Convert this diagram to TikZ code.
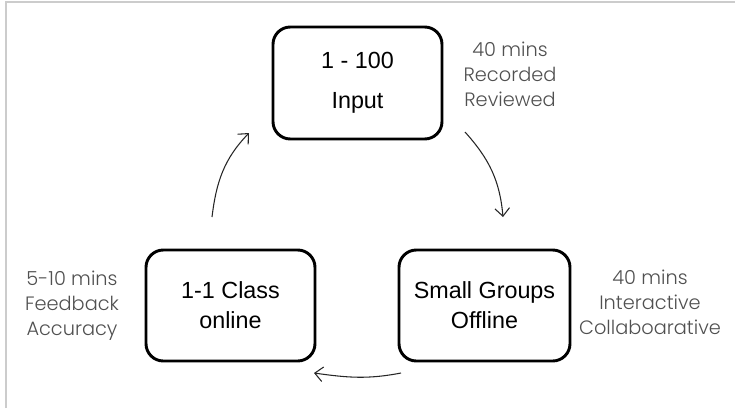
\documentclass[tikz,border=0pt]{standalone}
\usepackage{fontspec}
\setmainfont{Liberation Sans}
\newfontfamily\notefont{Poppins Light}
\usetikzlibrary{arrows.meta}
\definecolor{framegray}{HTML}{CCCCCC}
\definecolor{notegray}{HTML}{505050}
\begin{document}
\begin{tikzpicture}[x=0.75pt,y=-0.75pt,
  stepbox/.style={draw=black, line width=2.2pt, rounded corners=13pt, align=center,
    font=\fontsize{17.5}{22.5}\selectfont, inner sep=0pt},
  note/.style={align=center, text=notegray, font=\notefont\fontsize{14.5}{18.75}\selectfont, inner sep=0pt},
  flow/.style={line width=0.8pt, draw=black!85, -{Straight Barb[length=6pt,width=11pt,line width=0.8pt]}}]
\useasboundingbox (0,0) rectangle (735,408);
\draw[framegray, line width=1.5pt] (6,408) -- (6,2) -- (735,2);

\node[stepbox, minimum width=169*0.75pt, minimum height=112*0.75pt] (top) at (357.5,83) {1 - 100\\[7.5pt]Input};
\node[stepbox, minimum width=169*0.75pt, minimum height=111*0.75pt] (left) at (230.5,305.5) {1-1 Class\\online};
\node[stepbox, minimum width=171*0.75pt, minimum height=111*0.75pt] (right) at (484.5,305.5) {Small Groups\\Offline};

\node[note] (ta) at (510,74) {40 mins\\Recorded\\Reviewed};
\node[note] (la) at (72,306) {5-10 mins\\Feedback\\Accuracy};
\node[note] (ra) at (650,302) {40 mins\\Interactive\\Collaboarative};

\coordinate (a1s) at (212,217);
\coordinate (a1e) at (249,133);
\coordinate (a2s) at (465,132);
\coordinate (a2e) at (503,217);
\coordinate (a3s) at (401,373);
\coordinate (a3e) at (314,373);

\draw[flow] (a1s) to[out=83,in=226] (a1e);
\draw[flow] (a2s) to[out=-48,in=95] (a2e);
\draw[flow] (a3s) to[out=191,in=-8] (a3e);
\end{tikzpicture}
\end{document}
